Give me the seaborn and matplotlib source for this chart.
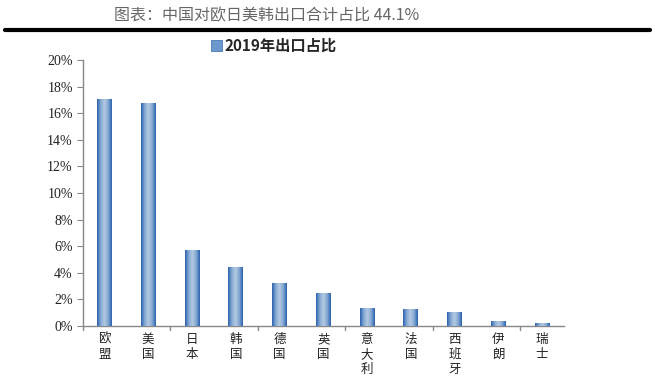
import numpy as np
import pandas as pd
import matplotlib
matplotlib.use("Agg")
import matplotlib.pyplot as plt
import seaborn as sns
from matplotlib.colors import LinearSegmentedColormap
from matplotlib.patches import Patch
from matplotlib.lines import Line2D

countries = ["欧盟", "美国", "日本", "韩国", "德国", "英国", "意大利", "法国", "西班牙", "伊朗", "瑞士"]
share = [17.1, 16.8, 5.75, 4.45, 3.2, 2.5, 1.35, 1.3, 1.05, 0.4, 0.2]
series_name = "2019年出口占比"
title = "图表：中国对欧日美韩出口合计占比 44.1%"

sns.set_style("white")
plt.rcParams['font.family'] = ['Liberation Serif', 'Noto Sans CJK SC', 'DejaVu Sans']

df = pd.DataFrame({"country": countries, "share": share})

fig = plt.figure(figsize=(6.55, 3.83), dpi=100)
ax = fig.add_axes([0.126, 0.149, 0.735, 0.694])

sns.barplot(data=df, x="country", y="share", color="#4f82c0", width=0.34, ax=ax, saturation=1)

# gradient fill like the original excel bars
grad_cmap = LinearSegmentedColormap.from_list("bar", ["#2a62ad", "#86a9d3", "#b4c9e2", "#86a9d3", "#2a62ad"])
grad = np.linspace(0, 1, 64).reshape(1, -1)
for p in ax.patches:
    x0, w, h = p.get_x(), p.get_width(), p.get_height()
    im = ax.imshow(grad, cmap=grad_cmap, aspect="auto", extent=[x0, x0 + w, 0, h], zorder=3)
    im.set_clip_path(p)

ax.set_xlim(-0.5, len(countries) - 0.5)
ax.set_ylim(0, 20)
ax.set_yticks(range(0, 21, 2))
ax.set_yticklabels([f"{v}%" for v in range(0, 21, 2)], fontsize=10, color="#222")

# category labels stacked vertically, ticks every two categories
ax.set_xticks(range(len(countries)))
ax.set_xticklabels(["\n".join(c) for c in countries], fontsize=9, family=['Noto Sans CJK SC'],
                   linespacing=1.2, va="top", color="#222")
ax.tick_params(axis="x", length=0, pad=5)
for b in np.arange(-0.5, len(countries) - 1, 2):
    ax.add_line(Line2D([b, b], [0, -0.3], color="#888", lw=1, clip_on=False, transform=ax.transData))
ax.tick_params(axis="y", length=4, color="#888", direction="out", left=True, pad=3)

ax.set_xlabel("")
ax.set_ylabel("")
for s in ["top", "right"]:
    ax.spines[s].set_visible(False)
for s in ["left", "bottom"]:
    ax.spines[s].set_color("#888")
    ax.spines[s].set_linewidth(1)

# title and heavy rule
fig.text(0.407, 0.958, title, ha="center", va="center", fontsize=11.5, color="#666", weight="light",
         family=['Noto Sans CJK SC', 'DejaVu Sans'])
fig.add_artist(Line2D([0.008, 0.992], [0.921, 0.921], color="black", lw=3, transform=fig.transFigure))

handle = Patch(facecolor="#6d98cb", edgecolor="#2f69b3", lw=0.5)
leg = fig.legend([handle], [series_name], loc="center", bbox_to_anchor=(0.418, 0.881), frameon=False,
                 handlelength=0.7, handleheight=0.7, handletextpad=0.2,
                 prop={"family": ['Noto Sans CJK SC'], "weight": "bold", "size": 11})

fig.savefig("out.png", dpi=100)
